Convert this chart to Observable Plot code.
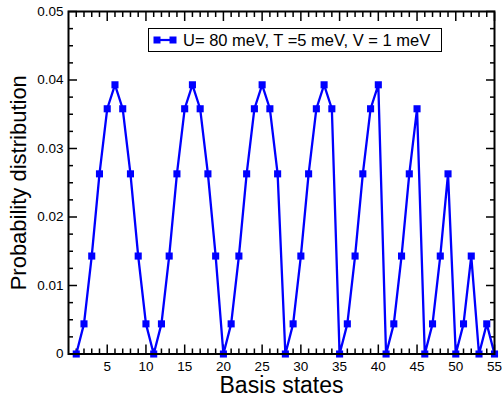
<!DOCTYPE html>
<html><head><meta charset="utf-8">
<script src="https://cdn.jsdelivr.net/npm/d3@7"></script>
<script src="https://cdn.jsdelivr.net/npm/@observablehq/plot@0.6"></script>
<style>
html,body{margin:0;padding:0;background:#fff;}
#chart{position:relative;width:502px;height:398px;font-family:"Liberation Sans",Arial,sans-serif;}
#legend{position:absolute;left:148px;top:28px;width:292px;height:22px;border:1.3px solid #000;background:#fff;display:flex;align-items:center;font-size:16.5px;color:#000;white-space:nowrap;}
#legend svg{margin-left:4px;margin-right:6px;}
</style></head><body><div id="chart"></div>
<script>
const states = [1,2,3,4,5,6,7,8,9,10,11,12,13,14,15,16,17,18,19,20,21,22,23,24,25,26,27,28,29,30,31,32,33,34,35,36,37,38,39,40,41,42,43,44,45,46,47,48,49,50,51,52,53,54,55];
const probability = [
  0, 0.0044, 0.0143, 0.0263, 0.0358, 0.0393, 0.0358, 0.0263, 0.0143, 0.0044,
  0, 0.0044, 0.0143, 0.0263, 0.0358, 0.0393, 0.0358, 0.0263, 0.0143,
  0, 0.0044, 0.0143, 0.0263, 0.0358, 0.0393, 0.0358, 0.0263,
  0, 0.0044, 0.0143, 0.0263, 0.0358, 0.0393, 0.0358,
  0, 0.0044, 0.0143, 0.0263, 0.0358, 0.0393,
  0, 0.0044, 0.0143, 0.0263, 0.0358,
  0, 0.0044, 0.0143, 0.0263,
  0, 0.0044, 0.0143,
  0, 0.0044,
  0
];
const seriesLabel = "U= 80 meV, T =5 meV, V = 1 meV";
const xTitle = "Basis states";
const yTitle = "Probability distribution";
const xTickLabels = [5,10,15,20,25,30,35,40,45,50,55];
const yTickLabels = [0,0.01,0.02,0.03,0.04,0.05];
const xMinorTicks = d3.range(1,55).filter(v => v % 5 !== 0);
const yMinorTicks = d3.range(1,20).filter(i => i % 4 !== 0).map(i => i * 0.0025);

const blue = "#0000ff";
const data = states.map((s, i) => ({state: s, p: probability[i]}));
const fmt = d => d === 0 ? "0" : String(+d.toFixed(2));
const tickW = 1.5;

const plot = Plot.plot({
  width: 502, height: 398,
  marginLeft: 68, marginRight: 8, marginTop: 11, marginBottom: 44.5,
  style: {fontFamily: "Liberation Sans, Arial, sans-serif", fontSize: "14px", color: "#000", background: "#fff"},
  x: {domain: [0, 55], axis: null},
  y: {domain: [0, 0.05], axis: null},
  marks: [
    Plot.axisX(xTickLabels, {anchor: "bottom", tickSize: 9, dy: -9, fill: "none", strokeWidth: tickW}),
    Plot.axisX(xMinorTicks, {anchor: "bottom", tickSize: 5, dy: -5, fill: "none", strokeWidth: tickW}),
    Plot.axisX(xTickLabels, {anchor: "top", tickSize: 9, dy: 9, fill: "none", strokeWidth: tickW}),
    Plot.axisX(xMinorTicks, {anchor: "top", tickSize: 5, dy: 5, fill: "none", strokeWidth: tickW}),
    Plot.axisY(yTickLabels, {anchor: "left", tickSize: 9, dx: 9, fill: "none", strokeWidth: tickW}),
    Plot.axisY(yMinorTicks, {anchor: "left", tickSize: 5, dx: 5, fill: "none", strokeWidth: tickW}),
    Plot.axisY(yTickLabels, {anchor: "right", tickSize: 9, dx: -9, fill: "none", strokeWidth: tickW}),
    Plot.axisY(yMinorTicks, {anchor: "right", tickSize: 5, dx: -5, fill: "none", strokeWidth: tickW}),
    Plot.axisX(xTickLabels, {anchor: "bottom", tickSize: 0, tickPadding: 7, stroke: "none", fontSize: 13.5, label: null}),
    Plot.axisY(yTickLabels, {anchor: "left", tickSize: 0, tickPadding: 5, stroke: "none", fontSize: 13.5, tickFormat: fmt, label: null}),
    Plot.line(data, {x: "state", y: "p", stroke: blue, strokeWidth: 2.3}),
    Plot.dot(data, {x: "state", y: "p", symbol: "square", r: 4, fill: blue, stroke: "none"}),
    Plot.frame({stroke: "#000", strokeWidth: 2}),
    Plot.text([xTitle], {text: d => d, frameAnchor: "bottom", lineAnchor: "top", textAnchor: "middle", dy: 23, fontSize: 23}),
    Plot.text([yTitle], {text: d => d, frameAnchor: "left", textAnchor: "middle", rotate: -90, dx: -50, fontSize: 22})
  ]
});
const chart = document.getElementById("chart");
chart.appendChild(plot);
const legend = document.createElement("div");
legend.id = "legend";
legend.innerHTML = `<svg width="24" height="10"><line x1="4" y1="5" x2="20" y2="5" stroke="${blue}" stroke-width="2.2"/><rect x="0.5" y="1.5" width="7" height="7" fill="${blue}"/><rect x="16.5" y="1.5" width="7" height="7" fill="${blue}"/></svg><span></span>`;
legend.querySelector("span").textContent = seriesLabel;
chart.appendChild(legend);
</script></body></html>
